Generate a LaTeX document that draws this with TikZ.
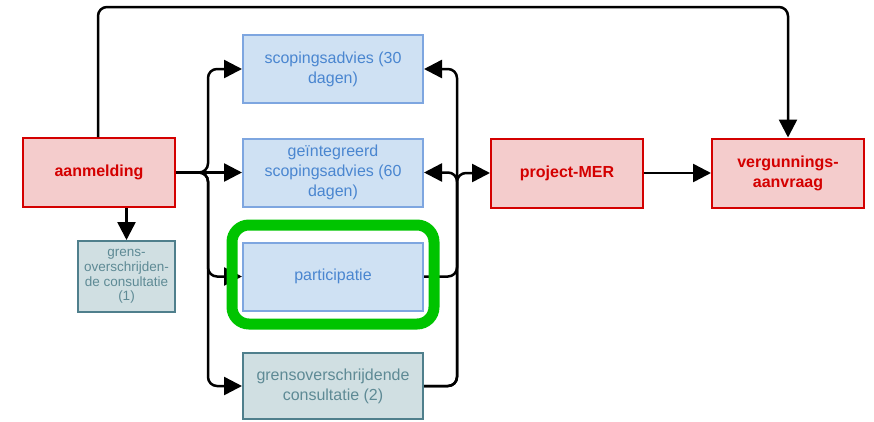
\documentclass[tikz,border=0pt]{standalone}
\usepackage{fontspec}
\setmainfont{Liberation Sans}
\usetikzlibrary{arrows.meta}
\definecolor{redfill}{HTML}{F4CCCC}
\definecolor{redline}{HTML}{D40000}
\definecolor{bluefill}{HTML}{CFE1F3}
\definecolor{blueline}{HTML}{7EA6E0}
\definecolor{bluetext}{HTML}{4A86D0}
\definecolor{grayfill}{HTML}{D0DFE2}
\definecolor{grayline}{HTML}{4F7F8C}
\definecolor{graytext}{HTML}{5E8A95}
\definecolor{hilite}{HTML}{00C400}
\tikzset{
  redbox/.style={draw=redline,fill=redfill,line width=2pt,minimum width=152pt,minimum height=69pt,align=center,text=redline,font=\fontsize{16}{20}\selectfont\bfseries},
  bluebox/.style={draw=blueline,fill=bluefill,line width=2pt,minimum width=180pt,minimum height=68pt,align=center,text=bluetext,font=\fontsize{16}{20}\selectfont},
  graybox/.style={draw=grayline,fill=grayfill,line width=2pt,align=center,text=graytext},
  conn/.style={line width=2.5pt,rounded corners=9pt},
  arr/.style={conn,-{Triangle[length=18pt,width=18pt]}},
  rarr/.style={conn,{Triangle[length=18pt,width=18pt]}-}
}
\begin{document}
\begin{tikzpicture}[x=1pt,y=-1pt]
\useasboundingbox (0,0) rectangle (874,421);
\node[redbox] (aan) at (99,172.5) {aanmelding};
\node[redbox] (mer) at (567,173) {project-MER};
\node[redbox] (verg) at (788,173) {vergunnings-\\aanvraag};
\node[bluebox] (sa) at (333,69) {scopingsadvies (30\\dagen)};
\node[bluebox] (gsa) at (333,172.5) {geïntegreerd\\scopingsadvies (60\\dagen)};
\node[bluebox] (part) at (333,276.5) {participatie};
\node[graybox,minimum width=180pt,minimum height=66pt,font=\fontsize{16}{20}\selectfont] (gc2) at (333,386) {grensoverschrijdende\\consultatie (2)};
\node[graybox,minimum width=97pt,minimum height=71pt,font=\fontsize{13.5}{14.8}\selectfont] (gc1) at (126.5,276.5) {grens-\\overschrijden-\\de consultatie\\(1)};
\coordinate (lb) at (208,0);
\coordinate (rb) at (457,0);
% top connector
\draw[arr] (aan.north -| 98,0) -- (98,7) -- (788,7) -- (verg.north);
% aanmelding to grens (1)
\draw[arr] (aan.south -| gc1.north) -- (gc1.north);
% left bus
\draw[arr] (aan.east) -- (aan.east -| lb) -- (sa.west -| lb) -- (sa.west);
\draw[arr] (aan.east) -- (gsa.west);
\draw[arr] (aan.east) -- (aan.east -| lb) -- (part.west -| lb) -- (part.west);
\draw[arr] (aan.east) -- (aan.east -| lb) -- (gc2.west -| lb) -- (gc2.west);
% right bus
\draw[rarr] (sa.east) -- (sa.east -| rb) -- (part.east -| rb) -- (part.east);
\draw[rarr] (gsa.east) -- (gsa.east -| rb) -- (gc2.east -| rb) -- (gc2.east);
\draw[arr] (gc2.east) -- (gc2.east -| rb) -- (mer.west -| rb) -- (mer.west);
% project-MER to vergunningsaanvraag
\draw[arr] (mer.east) -- (verg.west);
% highlight
\draw[hilite,line width=11pt,rounded corners=17pt] (232,225) rectangle (434,324);
\end{tikzpicture}
\end{document}
